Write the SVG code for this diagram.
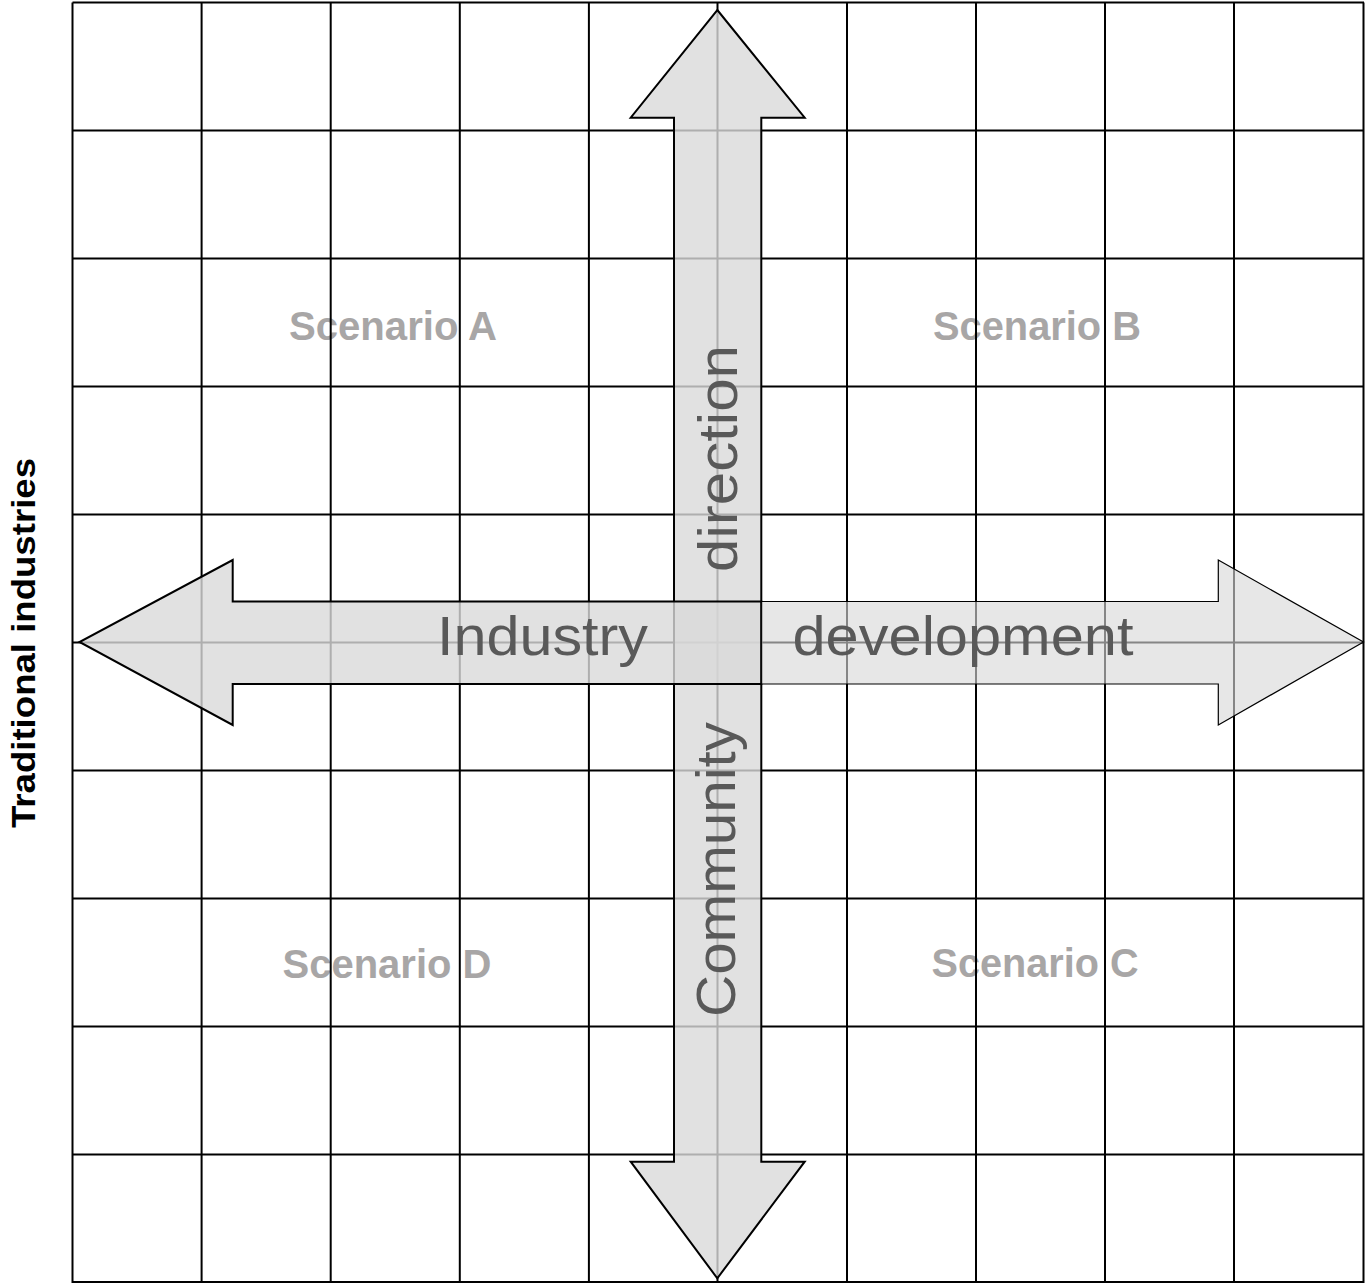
<svg xmlns="http://www.w3.org/2000/svg" width="1365" height="1283" viewBox="0 0 1365 1283">
<style>
.scen{font-family:"Liberation Sans",Arial,sans-serif;font-weight:bold;font-size:40px;fill:#a8a6a6;text-anchor:middle}
.axis{font-family:"Liberation Sans",Arial,sans-serif;font-size:56px;fill:#595959;text-anchor:middle}
.grid line{stroke:#000;stroke-width:2}
.arr{fill:#d9d9d9;fill-opacity:0.8;stroke:#000;stroke-width:2;stroke-linejoin:miter}
.arr2{fill:#d9d9d9;fill-opacity:0.62;stroke:#000;stroke-width:1.2}
</style>
<rect width="1365" height="1283" fill="#fff"/>
<g id="scenarios">
<text class="scen" x="393" y="340" textLength="208" lengthAdjust="spacingAndGlyphs">Scenario A</text>
<text class="scen" x="1037" y="340" textLength="208" lengthAdjust="spacingAndGlyphs">Scenario B</text>
<text class="scen" x="387" y="978" textLength="209" lengthAdjust="spacingAndGlyphs">Scenario D</text>
<text class="scen" x="1035" y="977" textLength="207" lengthAdjust="spacingAndGlyphs">Scenario C</text>
</g>
<g id="grid" class="grid">
<line x1="72.5" y1="2.5" x2="72.5" y2="1283"/>
<line x1="201.6" y1="2.5" x2="201.6" y2="1283"/>
<line x1="330.7" y1="2.5" x2="330.7" y2="1283"/>
<line x1="459.8" y1="2.5" x2="459.8" y2="1283"/>
<line x1="588.9" y1="2.5" x2="588.9" y2="1283"/>
<line x1="717.5" y1="2.5" x2="717.5" y2="1283"/>
<line x1="847" y1="2.5" x2="847" y2="1283"/>
<line x1="976" y1="2.5" x2="976" y2="1283"/>
<line x1="1105" y1="2.5" x2="1105" y2="1283"/>
<line x1="1234" y1="2.5" x2="1234" y2="1283"/>
<line x1="1363.5" y1="2.5" x2="1363.5" y2="1283"/>
<line x1="72.5" y1="2.5" x2="1364" y2="2.5"/>
<line x1="72.5" y1="130.5" x2="1364" y2="130.5"/>
<line x1="72.5" y1="258.5" x2="1364" y2="258.5"/>
<line x1="72.5" y1="386.5" x2="1364" y2="386.5"/>
<line x1="72.5" y1="514.5" x2="1364" y2="514.5"/>
<line x1="72.5" y1="642.5" x2="1364" y2="642.5"/>
<line x1="72.5" y1="770.5" x2="1364" y2="770.5"/>
<line x1="72.5" y1="898.5" x2="1364" y2="898.5"/>
<line x1="72.5" y1="1026.5" x2="1364" y2="1026.5"/>
<line x1="72.5" y1="1154.5" x2="1364" y2="1154.5"/>
<line x1="72.5" y1="1282" x2="1364" y2="1282"/>
</g>
<g id="connectors">
<polygon id="vertical-arrow" class="arr" points="717.3,10 804.7,117.7 761.3,117.7 761.3,1161.7 804.7,1161.7 717.3,1278.3 630.7,1161.7 674,1161.7 674,117.7 630.7,117.7"/>
<polygon id="left-arrow" class="arr" points="761.3,601.5 232.7,601.5 232.7,560 79.5,642 232.7,725 232.7,684 761.3,684"/>
<polygon id="right-arrow" class="arr2" points="761.3,601.5 1218.3,601.5 1218.3,560 1363.5,642 1218.3,725 1218.3,684 761.3,684"/>
</g>
<g id="axis-labels">
<text class="axis" x="542.5" y="655" textLength="211" lengthAdjust="spacingAndGlyphs">Industry</text>
<text class="axis" x="963" y="655" textLength="341" lengthAdjust="spacingAndGlyphs">development</text>
<text class="axis" transform="translate(737,458.5) rotate(-90)" textLength="227" lengthAdjust="spacingAndGlyphs">direction</text>
<text class="axis" transform="translate(735,869.5) rotate(-90)" textLength="295" lengthAdjust="spacingAndGlyphs">Community</text>
</g>
<g id="y-label">
<text transform="translate(35,643) rotate(-90)" font-family="'Liberation Sans',Arial,sans-serif" font-weight="bold" font-size="34" fill="#000" text-anchor="middle" textLength="370" lengthAdjust="spacingAndGlyphs">Traditional industries</text>
</g>
</svg>
